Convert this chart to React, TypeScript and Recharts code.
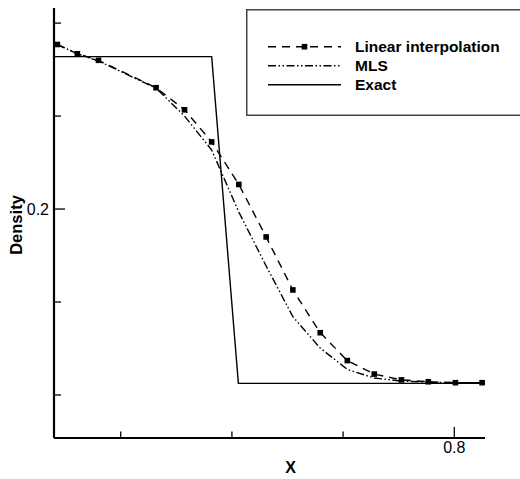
import React from 'react';
import { LineChart, Line, XAxis, YAxis, Legend } from 'recharts';

const nodeX = [0.6215, 0.6305, 0.64, 0.6659, 0.6787, 0.6909, 0.7031, 0.7154, 0.7274, 0.7397, 0.7519, 0.764, 0.7762, 0.7883, 0.8005, 0.8125];
const linearY = [0.2708, 0.2668, 0.264, 0.2522, 0.2427, 0.2289, 0.2106, 0.188, 0.1652, 0.1468, 0.1348, 0.129, 0.1265, 0.1257, 0.1253, 0.1253];
const mlsY = [0.2708, 0.2668, 0.2637, 0.252, 0.24, 0.2254, 0.1987, 0.1755, 0.1537, 0.1402, 0.131, 0.1273, 0.126, 0.1255, 0.1253, 0.1253];
const exactX = [0.62, 0.6909, 0.7029, 0.8138];
const exactY = [0.2656, 0.2656, 0.125, 0.125];

const xTicks = [0.65, 0.7, 0.75, 0.8];
const yTicks = [0.12, 0.16, 0.2, 0.24, 0.28];
const xLabeled = [0.8];
const yLabeled = [0.2];
const seriesNames = ['Linear interpolation', 'MLS', 'Exact'];

const linearData = nodeX.map((x, i) => ({ x, y: linearY[i] }));
const mlsData = nodeX.map((x, i) => ({ x, y: mlsY[i] }));
const exactData = exactX.map((x, i) => ({ x, y: exactY[i] }));

const FONT = 'Liberation Sans, Arial, Helvetica, sans-serif';
const LINEAR_DASH = '8 6';
const MLS_DASH = '8 2.5 1.5 2.5 1.5 2.5';

const SquareDot = (props: any) => {
  const { cx, cy, index } = props;
  if (cx == null || cy == null) return <g key={index} />;
  return <rect key={index} x={cx - 2.8} y={cy - 2.8} width={5.6} height={5.6} fill="#000" />;
};

const XTick = (props: any) => {
  const { x, y, payload } = props;
  const major = xLabeled.includes(payload.value);
  return (
    <g>
      <line x1={x} y1={y} x2={x} y2={y - (major ? 11 : 6.5)} stroke="#000" strokeWidth={1.3} />
      {major && (
        <text x={x} y={y + 15} textAnchor="middle" fontSize={16} fontFamily={FONT} fill="#000">
          {payload.value}
        </text>
      )}
    </g>
  );
};

const YTick = (props: any) => {
  const { x, y, payload } = props;
  const major = yLabeled.includes(payload.value);
  return (
    <g>
      <line x1={x} y1={y} x2={x + (major ? 11 : 7)} y2={y} stroke="#000" strokeWidth={1.3} />
      {major && (
        <text x={x - 5} y={y + 5.5} textAnchor="end" fontSize={16} fontFamily={FONT} fill="#000">
          {payload.value}
        </text>
      )}
    </g>
  );
};

const LegendBox = () => {
  const rows = [37.7, 56.7, 75.7];
  return (
    <svg width={290} height={108} style={{ display: 'block', overflow: 'visible' }}>
      <rect x={0.75} y={0.75} width={288} height={105.5} fill="#fff" stroke="#444" strokeWidth={1.5} />
      <line x1={22} y1={rows[0]} x2={95} y2={rows[0]} stroke="#000" strokeWidth={1.4} strokeDasharray={LINEAR_DASH} />
      <rect x={58.5 - 2.8} y={rows[0] - 2.8} width={5.6} height={5.6} fill="#000" />
      <line x1={22} y1={rows[1]} x2={95} y2={rows[1]} stroke="#000" strokeWidth={1.4} strokeDasharray={MLS_DASH} />
      <line x1={22} y1={rows[2]} x2={95} y2={rows[2]} stroke="#000" strokeWidth={1.4} />
      {seriesNames.map((n, i) => (
        <text key={n} x={109} y={rows[i] + 5.5} fontSize={15.5} fontWeight="bold" fontFamily={FONT} fill="#000">
          {n}
        </text>
      ))}
    </svg>
  );
};

export default function App() {
  return (
    <div style={{ position: 'absolute', left: 0, top: 0, width: 520, height: 479, background: '#fff', overflow: 'hidden' }}>
      <LineChart width={520} height={479} margin={{ top: 8, right: 35, bottom: 0, left: 0 }} style={{ overflow: 'hidden' }}>
        <XAxis
          type="number"
          dataKey="x"
          domain={[0.62, 0.8138]}
          ticks={xTicks}
          allowDataOverflow
          height={41}
          tickSize={0}
          tickMargin={0}
          tickLine={false}
          tick={<XTick />}
          axisLine={{ stroke: '#000', strokeWidth: 2.2 }}
          label={(p: any) => {
            const vb = p.viewBox || {};
            return (
              <text x={(vb.x ?? 54) + (vb.width ?? 431) / 2 + 21} y={473} textAnchor="middle" fontSize={16} fontWeight="bold" fontFamily={FONT} fill="#000">
                X
              </text>
            );
          }}
        />
        <YAxis
          type="number"
          dataKey="y"
          domain={[0.1015, 0.2865]}
          ticks={yTicks}
          allowDataOverflow
          width={54}
          tickSize={0}
          tickMargin={0}
          tickLine={false}
          tick={<YTick />}
          axisLine={{ stroke: '#000', strokeWidth: 2.2 }}
          label={(p: any) => {
            const vb = p.viewBox || {};
            const cy = (vb.y ?? 8) + (vb.height ?? 430) / 2 + 2;
            return (
              <text x={22} y={cy} transform={`rotate(-90 22 ${cy})`} textAnchor="middle" fontSize={16.5} fontWeight="bold" fontFamily={FONT} fill="#000">
                Density
              </text>
            );
          }}
        />
        <Legend
          layout="horizontal"
          verticalAlign="middle"
          align="center"
          content={() => <LegendBox />}
          wrapperStyle={{ left: 246, top: 9, width: 290, height: 108 }}
        />
        <Line
          data={exactData}
          dataKey="y"
          name={seriesNames[2]}
          type="linear"
          stroke="#000"
          strokeWidth={1.4}
          dot={false}
          isAnimationActive={false}
        />
        <Line
          data={mlsData}
          dataKey="y"
          name={seriesNames[1]}
          type="linear"
          stroke="#000"
          strokeWidth={1.4}
          strokeDasharray={MLS_DASH}
          dot={false}
          isAnimationActive={false}
        />
        <Line
          data={linearData}
          dataKey="y"
          name={seriesNames[0]}
          type="linear"
          stroke="#000"
          strokeWidth={1.4}
          strokeDasharray={LINEAR_DASH}
          dot={<SquareDot />}
          isAnimationActive={false}
        />
      </LineChart>
    </div>
  );
}
